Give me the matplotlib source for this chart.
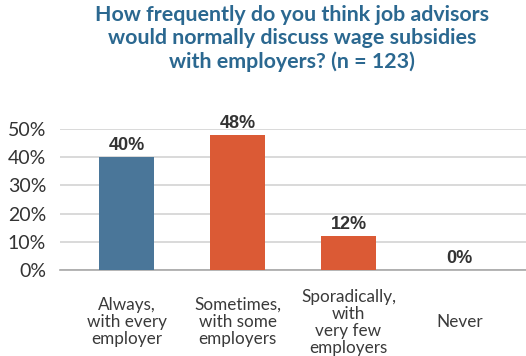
import matplotlib
matplotlib.use('Agg')
import matplotlib.pyplot as plt
import matplotlib.transforms as mtransforms
import numpy as np

plt.rcParams['font.family'] = ['Lato', 'DejaVu Sans']

categories = ['Always,\nwith every\nemployer', 'Sometimes,\nwith some\nemployers',
              'Sporadically,\nwith\nvery few\nemployers', 'Never']
shares = [0.40, 0.48, 0.12, 0.00]
bar_colors = ['#4a7699', '#db5a35', '#db5a35', '#db5a35']
yticks = [0.0, 0.1, 0.2, 0.3, 0.4, 0.5]
title = 'How frequently do you think job advisors\nwould normally discuss wage subsidies\nwith employers? (n = 123)'

fig = plt.figure(figsize=(5.26, 3.56), dpi=100)
ax = fig.add_axes([0.114, 0.2416, 0.886, 0.396])

x = np.arange(len(categories))
ax.bar(x, shares, width=0.5, color=bar_colors, zorder=3)

for xi, v in zip(x, shares):
    ax.text(xi, v + 0.01, '{0:.0%}'.format(v), ha='center', va='bottom',
            fontsize=13, fontweight='bold', color='#333333', clip_on=False,
            family=['Liberation Sans', 'DejaVu Sans'])

ax.set_xlim(-0.6, 3.6)
ax.set_ylim(0, 0.5)
ax.set_yticks(yticks)
ax.set_yticklabels(['{0:.0%}'.format(t) for t in yticks])
ax.tick_params(axis='y', length=0, pad=10, labelsize=14, labelcolor='#333333')
ax.set_xticks([])
ax.grid(axis='y', color='#d3d3d3', linewidth=1.2, zorder=0)
for side in ['left', 'right', 'top']:
    ax.spines[side].set_visible(False)
ax.spines['bottom'].set_color('#a8a8a8')
ax.spines['bottom'].set_linewidth(1.2)

# category labels sit under the bars, centred as a block
trans = mtransforms.blended_transform_factory(ax.transData, ax.transAxes)
for xi, lab in zip(x, categories):
    ax.text(xi, -0.37, lab, transform=trans, ha='center', va='center',
            fontsize=12.3, color='#3a3a3a', linespacing=1.08)

fig.text(0.555, 0.893, title, ha='center', va='center', fontsize=15.4,
         fontweight='bold', color='#2b6890', linespacing=1.2)

fig.savefig('out.png', dpi=100)
